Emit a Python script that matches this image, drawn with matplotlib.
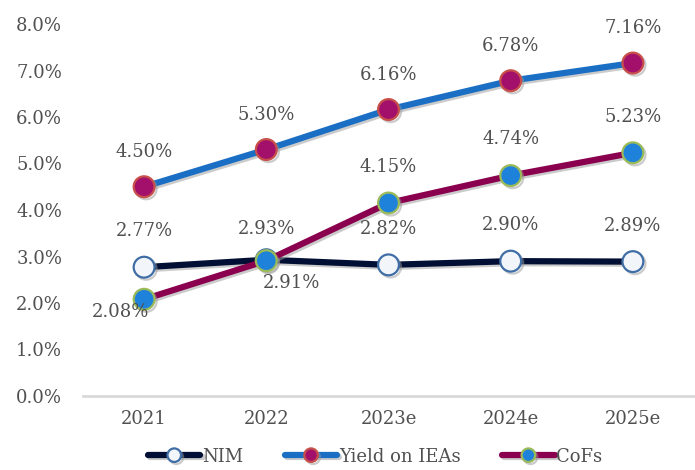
import matplotlib
matplotlib.use("Agg")
import matplotlib.pyplot as plt
import matplotlib.patheffects as pe
from matplotlib.ticker import FuncFormatter

# -----------------------------
# Data
# -----------------------------
years = ["2021", "2022", "2023e", "2024e", "2025e"]
nim = [2.77, 2.93, 2.82, 2.90, 2.89]
yield_ieas = [4.50, 5.30, 6.16, 6.78, 7.16]
cofs = [2.08, 2.91, 4.15, 4.74, 5.23]

plt.rcParams["font.family"] = ["DejaVu Serif"]
text_col = "#505050"

fig = plt.figure(figsize=(6.95, 4.70), dpi=100)
ax = fig.add_axes([83 / 695, 74 / 470, 611 / 695, 372 / 470])

x = list(range(len(years)))
shadow = [pe.SimpleLineShadow(offset=(1.5, -1.5), shadow_color="0.6", alpha=0.5), pe.Normal()]

series = [
    ("NIM", nim, "#000F33", "#F2F6FB", "#3F6EA6"),
    ("Yield on IEAs", yield_ieas, "#1A6FC4", "#A3106B", "#C8504A"),
    ("CoFs", cofs, "#8A004F", "#1F82DA", "#9BBB59"),
]

for name, vals, lc, mf, me in series:
    ax.plot(x, vals, color=lc, linewidth=4.5, marker="o", markersize=15,
            markerfacecolor=mf, markeredgecolor=me, markeredgewidth=1.6,
            solid_capstyle="round", label=name, path_effects=shadow)

# data labels
def lab(v, xi, dx, dy):
    ax.annotate(f"{v:.2f}%", (xi, v), xytext=(dx, dy), textcoords="offset points",
                ha="center", va="center", fontsize=13, color=text_col)

for i, v in enumerate(yield_ieas):
    lab(v, i, 0, 25)
for i, v in enumerate(nim):
    lab(v, i, 0, 26 if i != 1 else 22)
for i, v in enumerate(cofs):
    if i == 0:
        lab(v, i, -17, -9)
    elif i == 1:
        lab(v, i, 18, -16)
    else:
        lab(v, i, 0, 26)

ax.set_xlim(-0.5, 4.5)
ax.set_ylim(0, 8)
ax.set_yticks([0, 1, 2, 3, 4, 5, 6, 7, 8])
ax.yaxis.set_major_formatter(FuncFormatter(lambda v, p: f"{v:.1f}%"))
ax.set_xticks(x)
ax.set_xticklabels(years)

for s in ["top", "right", "left"]:
    ax.spines[s].set_visible(False)
ax.spines["bottom"].set_color("#D9D9D9")
ax.spines["bottom"].set_linewidth(2)
ax.tick_params(axis="both", length=0, labelsize=13, colors=text_col)
ax.tick_params(axis="y", pad=15)
ax.tick_params(axis="x", pad=10)

leg = fig.legend(loc="lower center", bbox_to_anchor=(0.54, -0.025), ncol=3, frameon=False,
                 fontsize=13, handlelength=2.9, handletextpad=0.1, columnspacing=2.3,
                 markerscale=0.65, labelcolor=text_col)

fig.savefig("out.png", dpi=100)
